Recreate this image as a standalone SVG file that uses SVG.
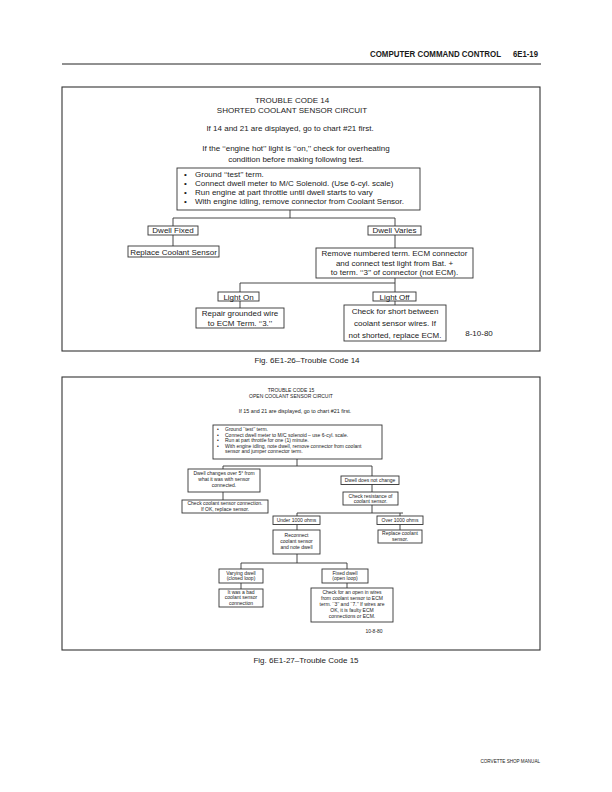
<svg xmlns="http://www.w3.org/2000/svg" width="612" height="792" viewBox="0 0 612 792">
<style>
text{font-family:"Liberation Sans","DejaVu Sans",sans-serif;fill:#1a1a1a}
.t{font-size:8px}
.s{font-size:5px}
.c{text-anchor:middle}
.h{font-size:8.2px;font-weight:bold}
.b{fill:#fff;stroke:#333;stroke-width:0.9}
.l{fill:none;stroke:#333;stroke-width:0.9}
.f{fill:none;stroke:#333;stroke-width:1.1}
</style>
<rect width="612" height="792" fill="#fff"/>
<g id="header">
<text class="h" x="370" y="57" textLength="131" lengthAdjust="spacingAndGlyphs">COMPUTER COMMAND CONTROL</text>
<text class="h" x="513" y="57" textLength="25" lengthAdjust="spacingAndGlyphs">6E1-19</text>
<line x1="62" y1="64" x2="541" y2="64" stroke="#222" stroke-width="1"/>
</g>
<g id="chart14">
<rect class="f" x="62" y="87" width="478" height="264"/>
<text class="t c" x="292" y="103">TROUBLE CODE 14</text>
<text class="t c" x="292" y="113">SHORTED COOLANT SENSOR CIRCUIT</text>
<text class="t c" x="290" y="131">If 14 and 21 are displayed, go to chart #21 first.</text>
<text class="t c" x="296" y="151">If the ‘‘engine hot’’ light is ‘‘on,’’ check for overheating</text>
<text class="t c" x="296" y="162">condition before making following test.</text>
<g id="n14_steps"><rect class="b" x="177" y="168" width="243" height="42"/>
<text class="t" x="184" y="177">•</text><text class="t" x="195" y="177">Ground ‘‘test’’ term.</text>
<text class="t" x="184" y="186">•</text><text class="t" x="195" y="186">Connect dwell meter to M/C Solenoid. (Use 6-cyl. scale)</text>
<text class="t" x="184" y="195">•</text><text class="t" x="195" y="195">Run engine at part throttle until dwell starts to vary</text>
<text class="t" x="184" y="204">•</text><text class="t" x="195" y="204">With engine idling, remove connector from Coolant Sensor.</text></g>
<g id="n14_fixed"><rect class="b" x="148" y="226" width="50" height="9"/><text class="t c" x="173" y="233">Dwell Fixed</text></g>
<g id="n14_varies"><rect class="b" x="368" y="226" width="53" height="9"/><text class="t c" x="394.5" y="233">Dwell Varies</text></g>
<g id="n14_replace"><rect class="b" x="128" y="246" width="91" height="11"/><text class="t c" x="173.5" y="254.5">Replace Coolant Sensor</text></g>
<g id="n14_remove"><rect class="b" x="316" y="248" width="157" height="30"/>
<text class="t c" x="394.5" y="256">Remove numbered term. ECM connector</text>
<text class="t c" x="394.5" y="265.5">and connect test light from Bat. +</text>
<text class="t c" x="394.5" y="275">to term. ‘‘3’’ of connector (not ECM).</text></g>
<g id="n14_on"><rect class="b" x="218" y="292" width="41" height="9"/><text class="t c" x="238.5" y="299.5">Light On</text></g>
<g id="n14_off"><rect class="b" x="373" y="292" width="43" height="9"/><text class="t c" x="394.5" y="299.5">Light Off</text></g>
<g id="n14_repair"><rect class="b" x="196" y="308" width="88" height="20"/>
<text class="t c" x="240" y="316">Repair grounded wire</text>
<text class="t c" x="240" y="325.5">to ECM Term. ‘‘3.’’</text></g>
<g id="n14_check"><rect class="b" x="344" y="305" width="102" height="36"/>
<text class="t c" x="395" y="314">Check for short between</text>
<text class="t c" x="395" y="326">coolant sensor wires. If</text>
<text class="t c" x="395" y="337.5">not shorted, replace ECM.</text></g>
<text class="t c" x="479" y="336">8-10-80</text>
</g>
<g id="connectors14">
<path class="l" d="M290 210V218M173 218H395M173 218V226M395 218V226M173 235V246M395 235V248M395 278V283M240 283H395M240 283V292M395 283V292M240 301V308M395 301V305"/>
</g>
<text class="t c" x="307" y="363">Fig. 6E1-26–Trouble Code 14</text>
<g id="chart15">
<rect class="f" x="62" y="377" width="478" height="273"/>
<text class="s c" x="291" y="392">TROUBLE CODE 15</text>
<text class="s c" x="291" y="398">OPEN COOLANT SENSOR CIRCUIT</text>
<text class="s c" x="295" y="413" style="font-size:5.4px">If 15 and 21 are displayed, go to chart #21 first.</text>
<g id="n15_steps"><rect class="b" x="213" y="425" width="169" height="34"/>
<text class="s" x="217" y="431">•</text><text class="s" x="225" y="431">Ground ‘‘test’’ term.</text>
<text class="s" x="217" y="436.5">•</text><text class="s" x="225" y="436.5">Connect dwell meter to M/C solenoid – use 6-cyl. scale.</text>
<text class="s" x="217" y="442">•</text><text class="s" x="225" y="442">Run at part throttle for one (1) minute.</text>
<text class="s" x="217" y="447.5">•</text><text class="s" x="225" y="447.5">With engine idling, note dwell, remove connector from coolant</text>
<text class="s" x="225" y="453">sensor and jumper connector term.</text></g>
<g id="n15_changes"><rect class="b" x="188" y="469" width="72" height="23"/>
<text class="s c" x="224" y="474.5">Dwell changes over 5° from</text>
<text class="s c" x="224" y="480.5">what it was with sensor</text>
<text class="s c" x="224" y="486.5">connected.</text></g>
<g id="n15_nochange"><rect class="b" x="341" y="476" width="58" height="8.5"/><text class="s c" x="370" y="482">Dwell does not change</text></g>
<g id="n15_checkconn"><rect class="b" x="182" y="500" width="86" height="13"/>
<text class="s c" x="225" y="505">Check coolant sensor connection.</text>
<text class="s c" x="225" y="511">If OK, replace sensor.</text></g>
<g id="n15_resist"><rect class="b" x="343" y="492" width="55" height="13"/>
<text class="s c" x="370.5" y="497.5">Check resistance of</text>
<text class="s c" x="370.5" y="503">coolant sensor.</text></g>
<g id="n15_under"><rect class="b" x="273" y="516" width="47" height="8.5"/><text class="s c" x="296.5" y="522">Under 1000 ohms</text></g>
<g id="n15_over"><rect class="b" x="377" y="516" width="46" height="8.5"/><text class="s c" x="400" y="522">Over 1000 ohms</text></g>
<g id="n15_reconnect"><rect class="b" x="273" y="530" width="47" height="24"/>
<text class="s c" x="296.5" y="537">Reconnect</text>
<text class="s c" x="296.5" y="543">coolant sensor</text>
<text class="s c" x="296.5" y="549">and note dwell</text></g>
<g id="n15_replace"><rect class="b" x="378" y="530" width="44" height="13"/>
<text class="s c" x="400" y="535">Replace coolant</text>
<text class="s c" x="400" y="540.5">sensor.</text></g>
<g id="n15_varying"><rect class="b" x="219" y="569" width="44" height="14"/>
<text class="s c" x="241" y="574.5">Varying dwell</text>
<text class="s c" x="241" y="580">(closed loop)</text></g>
<g id="n15_fixed"><rect class="b" x="322" y="569" width="46" height="14"/>
<text class="s c" x="345" y="574.5">Fixed dwell</text>
<text class="s c" x="345" y="580">(open loop)</text></g>
<g id="n15_bad"><rect class="b" x="219" y="589" width="44" height="18"/>
<text class="s c" x="241" y="593.5">It was a bad</text>
<text class="s c" x="241" y="599">coolant sensor</text>
<text class="s c" x="241" y="604.5">connection</text></g>
<g id="n15_open"><rect class="b" x="311" y="588" width="82" height="34"/>
<text class="s c" x="352" y="594">Check for an open in wires</text>
<text class="s c" x="352" y="600">from coolant sensor to ECM</text>
<text class="s c" x="352" y="606">term. ‘‘3’’ and ‘‘7.’’ If wires are</text>
<text class="s c" x="352" y="612">OK, it is faulty ECM</text>
<text class="s c" x="352" y="618">connections or ECM.</text></g>
<text class="s c" x="374" y="633">10-8-80</text>
</g>
<g id="connectors15">
<path class="l" d="M297 459V466M223 466H372M223 466V469M372 466V476M223 492V500M372 484.5V492M372 505V513M297 513H403M297 513V516M400 513V516M297 524.5V530M400 524.5V530M297 554V563M241 563H347M241 563V569M347 563V569M241 583V589M347 583V588"/>
</g>
<text class="t c" x="306" y="663">Fig. 6E1-27–Trouble Code 15</text>
<text x="540" y="763" style="font-size:4.6px;text-anchor:end">CORVETTE SHOP MANUAL</text>
</svg>
